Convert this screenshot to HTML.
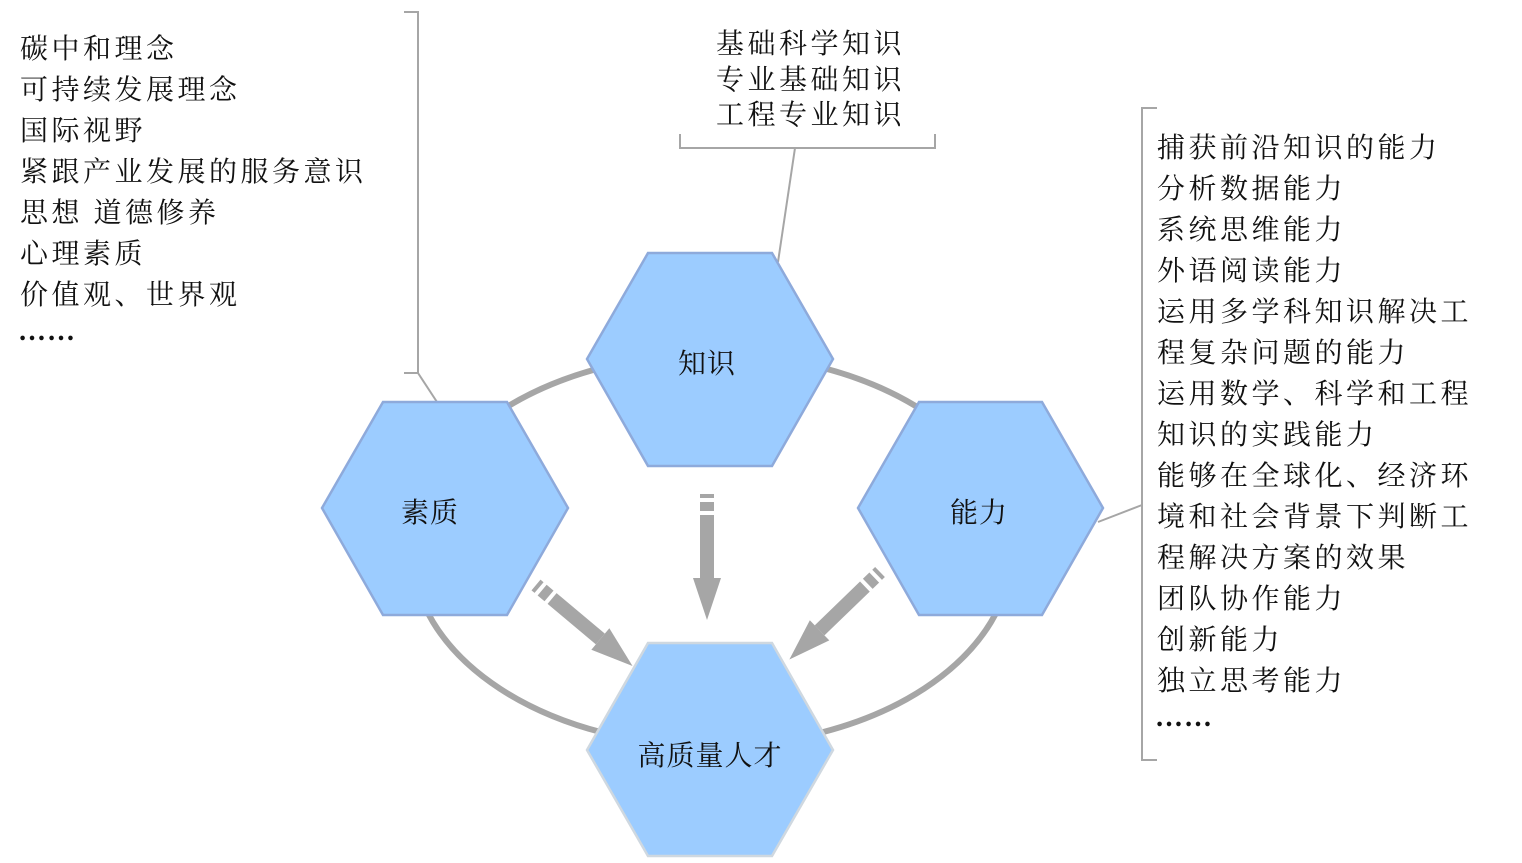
<!DOCTYPE html>
<html><head><meta charset="utf-8"><style>
html,body{margin:0;padding:0;background:#fff;}
svg{display:block}
text{font-family:"Liberation Serif","Noto Serif CJK SC",serif;font-size:28px;fill:#111;letter-spacing:3.5px}
.c{text-anchor:middle;letter-spacing:1px}
.d{font-weight:bold;letter-spacing:1px}
</style></head><body>
<svg width="1522" height="863" viewBox="0 0 1522 863">
<g fill="none" stroke="#a6a6a6" stroke-width="2">
<polyline points="404,12 418,12 418,373 404,373"/>
<line x1="418" y1="373" x2="437" y2="402"/>
<polyline points="680,134 680,148 935,148 935,134"/>
<line x1="795" y1="148" x2="778" y2="262"/>
<polyline points="1157,108 1142,108 1142,760 1157,760"/>
<line x1="1142" y1="505" x2="1098" y2="522"/>
</g>
<ellipse cx="712" cy="550" rx="300" ry="196" fill="none" stroke="#a6a6a6" stroke-width="6"/>
<g fill="#9cccff" stroke="#8eaadb" stroke-width="2.5">
<polygon points="587,359 648,253 772,253 833,359 772,466 648,466"/>
<polygon points="322,508 383,402 507,402 568,508 507,615 383,615"/>
<polygon points="858,508 919,402 1042,402 1103,508 1042,615 919,615"/>
<polygon points="587,750 648,643 772,643 833,750 772,856 648,856" stroke="#cfd8e0"/>
</g>
<defs>
<g id="arr" fill="#a6a6a6">
<rect x="-7" y="0" width="14" height="4"/>
<rect x="-7" y="8" width="14" height="9"/>
<rect x="-7" y="21" width="14" height="63"/>
<polygon points="-14,84 14,84 0,126"/>
</g>
</defs>
<use href="#arr" transform="translate(707,494)"/>
<use href="#arr" transform="translate(536,585) rotate(-50)"/>
<use href="#arr" transform="translate(880,572) rotate(46)"/>
<text class="c" x="707" y="373">知识</text>
<text class="c" x="430" y="522">素质</text>
<text class="c" x="979" y="522">能力</text>
<text class="c" x="710" y="765">高质量人才</text>
<g>
<text x="20" y="58">碳中和理念</text>
<text x="20" y="99">可持续发展理念</text>
<text x="20" y="140">国际视野</text>
<text x="20" y="181">紧跟产业发展的服务意识</text>
<text x="20" y="222">思想 道德修养</text>
<text x="20" y="263">心理素质</text>
<text x="20" y="304">价值观、世界观</text>
<text class="d" x="18" y="340">……</text>
</g>
<g>
<text x="716" y="53">基础科学知识</text>
<text x="716" y="89">专业基础知识</text>
<text x="716" y="124">工程专业知识</text>
</g>
<g>
<text x="1157" y="157">捕获前沿知识的能力</text>
<text x="1157" y="198">分析数据能力</text>
<text x="1157" y="239">系统思维能力</text>
<text x="1157" y="280">外语阅读能力</text>
<text x="1157" y="321">运用多学科知识解决工</text>
<text x="1157" y="362">程复杂问题的能力</text>
<text x="1157" y="403">运用数学、科学和工程</text>
<text x="1157" y="444">知识的实践能力</text>
<text x="1157" y="485">能够在全球化、经济环</text>
<text x="1157" y="526">境和社会背景下判断工</text>
<text x="1157" y="567">程解决方案的效果</text>
<text x="1157" y="608">团队协作能力</text>
<text x="1157" y="649">创新能力</text>
<text x="1157" y="690">独立思考能力</text>
<text class="d" x="1155" y="726">……</text>
</g>
</svg>
</body></html>
